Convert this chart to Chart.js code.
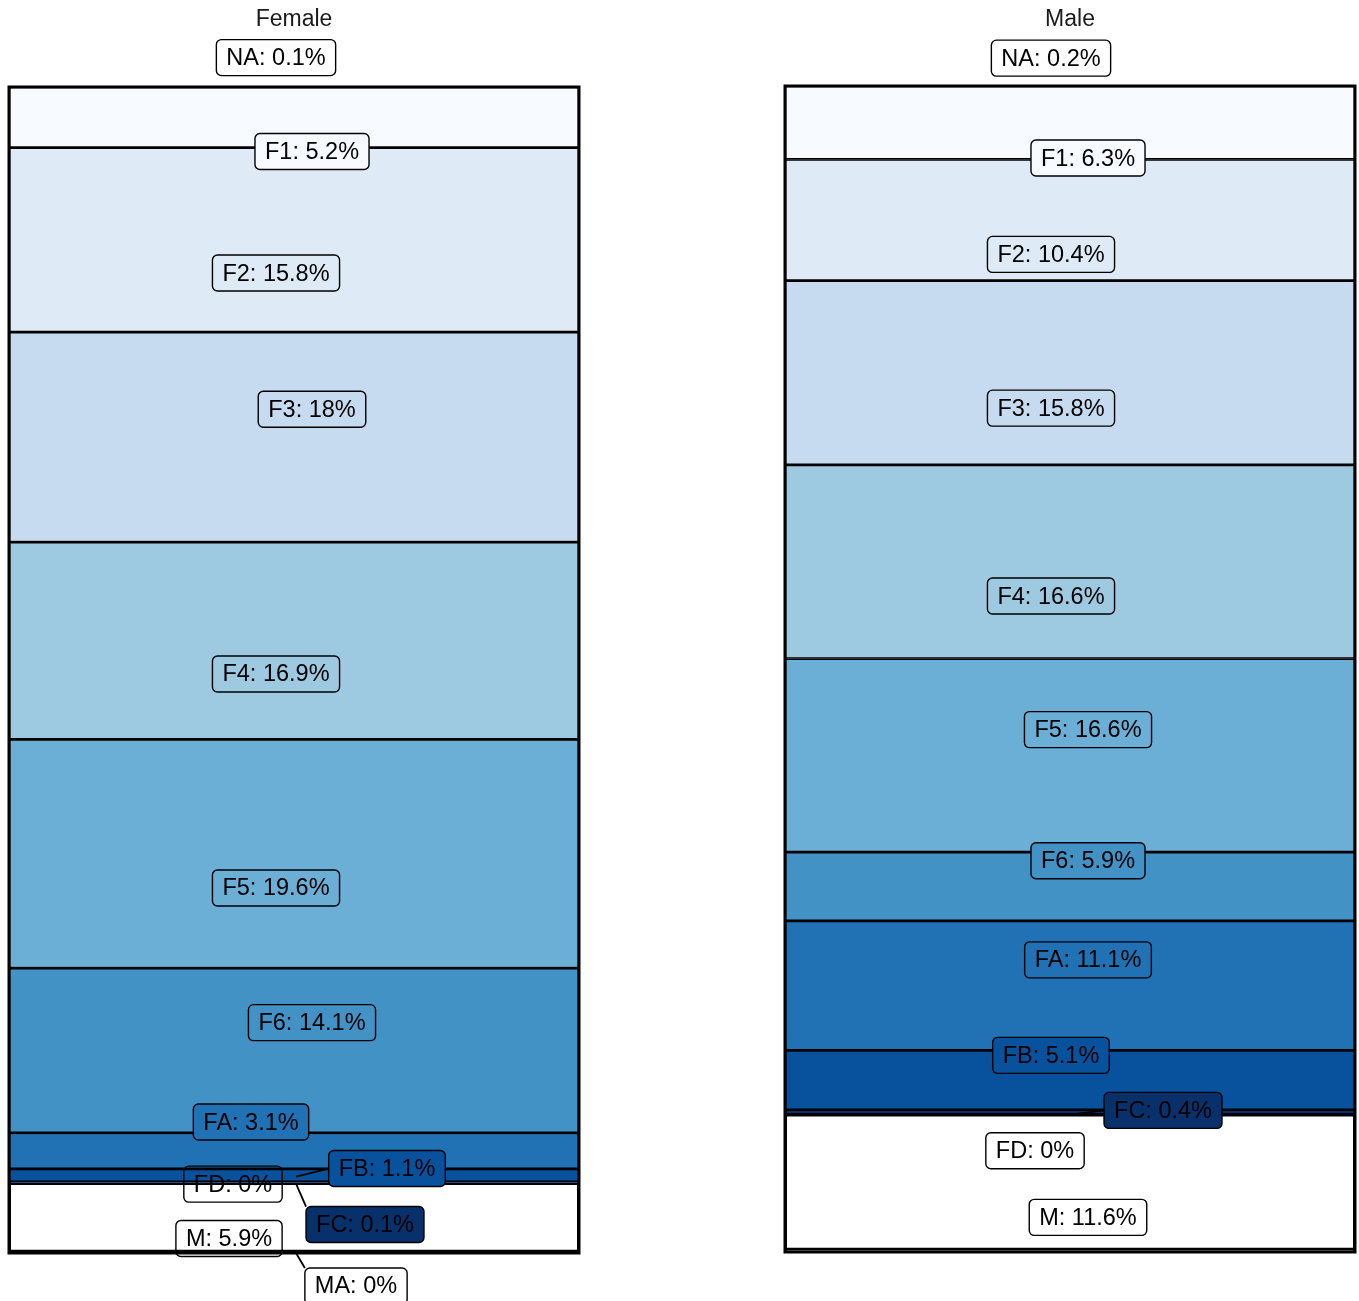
<!DOCTYPE html>
<html>
<head>
<meta charset="utf-8">
<script src="https://cdn.jsdelivr.net/npm/chart.js@4"></script>
<style>
  html, body { margin: 0; padding: 0; background: #ffffff; }
  body { width: 1359px; height: 1301px; position: relative; overflow: hidden; }
  canvas { position: absolute; top: 0; }
</style>
</head>
<body>
<canvas id="female" width="680" height="1301" style="left:0px"></canvas>
<canvas id="male" width="679" height="1301" style="left:680px"></canvas>
<script>
// ---- data ----
const categories = ['NA', 'F1', 'F2', 'F3', 'F4', 'F5', 'F6', 'FA', 'FB', 'FC', 'FD', 'M', 'MA'];
const femaleValues = [0.1, 5.2, 15.8, 18, 16.9, 19.6, 14.1, 3.1, 1.1, 0.1, 0, 5.9, 0];
const maleValues = [0.2, 6.3, 10.4, 15.8, 16.6, 16.6, 5.9, 11.1, 5.1, 0.4, 0, 11.6, null];
const panelNames = ['Female', 'Male'];
// bars are stacked top-to-bottom in this order (the NA level sits at the very bottom)
const barOrder = ['F1', 'F2', 'F3', 'F4', 'F5', 'F6', 'FA', 'FB', 'FC', 'FD', 'M', 'MA', 'NA'];

// ---- styles ----
const fillColors = ['rgba(0,0,0,0)', '#f7fbff', '#deebf7', '#c6dbef', '#9ecae1', '#6baed6', '#4292c6',
  '#2171b5', '#08519c', '#08306b', 'rgba(0,0,0,0)', 'rgba(0,0,0,0)', 'rgba(0,0,0,0)'];
const labelFills = ['#ffffff', '#f7fbff', '#deebf7', '#c6dbef', '#9ecae1', '#6baed6', '#4292c6',
  '#2171b5', '#08519c', '#08306b', 'rgba(0,0,0,0)', 'rgba(0,0,0,0)', 'rgba(0,0,0,0)'];

// label nudges (pixels from label anchor) as placed by the repel layout, and leader flags
const femaleNudge = [[-18, -30], [18, 33], [-18, 32], [18, -29], [-18, 32], [-18, 33], [18, -29],
  [-43, -30], [93, -8], [71, 41], [-61, 0], [-65, 20], [62, 33]];
const femaleLeader = [0, 0, 0, 0, 0, 0, 0, 0, 1, 1, 0, 0, 1];
const maleNudge = [[-19, -29], [18, 33], [-19, 32], [-19, 33], [-19, 32], [18, -28], [18, -28],
  [18, -28], [-19, -27], [93, -4], [-35, 34], [18, 33], [0, 0]];
const maleLeader = [0, 0, 0, 0, 0, 0, 0, 0, 0, 1, 0, 0, 0];

const FONT = '23.5px "Liberation Sans", Arial, sans-serif';

function roundRect(ctx, x, y, w, h, r) {
  ctx.beginPath();
  ctx.moveTo(x + r, y);
  ctx.lineTo(x + w - r, y);
  ctx.arcTo(x + w, y, x + w, y + r, r);
  ctx.lineTo(x + w, y + h - r);
  ctx.arcTo(x + w, y + h, x + w - r, y + h, r);
  ctx.lineTo(x + r, y + h);
  ctx.arcTo(x, y + h, x, y + h - r, r);
  ctx.lineTo(x, y + r);
  ctx.arcTo(x, y, x + r, y, r);
  ctx.closePath();
}

function makeLabelPlugin(values, nudges, leaders) {
  return {
    id: 'repelLabels',
    afterDatasetsDraw(chart) {
      const ctx = chart.ctx;
      const area = chart.chartArea;
      const xs = chart.scales.x, ys = chart.scales.y;
      // outer frame
      ctx.save();
      ctx.strokeStyle = '#000';
      ctx.lineWidth = 3;
      ctx.strokeRect(area.left, area.top, area.right - area.left, area.bottom - area.top);
      ctx.restore();

      ctx.save();
      ctx.font = FONT;
      const boxes = [];
      let cum = 0;
      categories.forEach((c, i) => {
        const v = values[i];
        if (v === null || v === undefined) return;
        const px = xs.getPixelForValue(0);
        const py = ys.getPixelForValue(cum + v / 2);
        cum += v;
        const text = c + ': ' + v + '%';
        const tw = ctx.measureText(text).width;
        const w = tw + 20, h = 36;
        const cx = px + nudges[i][0], cy = py + nudges[i][1];
        boxes.push({ i, px, py, text, x: cx - w / 2, y: cy - h / 2, w, h, cx, cy });
      });
      // leader segments first
      ctx.strokeStyle = '#000';
      ctx.lineWidth = 1.8;
      boxes.forEach(b => {
        if (!leaders[b.i]) return;
        const cand = [];
        [b.x, b.x + b.w / 2, b.x + b.w].forEach(xx => {
          [b.y, b.y + b.h / 2, b.y + b.h].forEach(yy => {
            if (!(xx === b.x + b.w / 2 && yy === b.y + b.h / 2)) cand.push([xx, yy]);
          });
        });
        let best = cand[0], bd = Infinity;
        cand.forEach(c => {
          const d = Math.hypot(c[0] - b.px, c[1] - b.py);
          if (d < bd) { bd = d; best = c; }
        });
        ctx.beginPath();
        ctx.moveTo(b.px + 2, b.py);
        ctx.lineTo(best[0], best[1]);
        ctx.stroke();
      });
      // label boxes
      boxes.forEach(b => {
        roundRect(ctx, b.x, b.y, b.w, b.h, 5);
        ctx.fillStyle = labelFills[b.i];
        ctx.fill();
        ctx.lineWidth = 1.4;
        ctx.strokeStyle = '#000';
        ctx.stroke();
        ctx.fillStyle = '#000';
        ctx.textAlign = 'center';
        ctx.textBaseline = 'middle';
        ctx.fillText(b.text, b.cx, b.cy + 1);
      });
      ctx.restore();
    }
  };
}

function makeChart(id, name, values, nudges, leaders, pad, titleGap) {
  const total = values.reduce((s, v) => s + (v || 0), 0);
  const datasets = barOrder.map(c => {
    const i = categories.indexOf(c);
    return {
      label: c,
      data: [values[i]],
      backgroundColor: fillColors[i],
      borderColor: '#000',
      borderWidth: 1.7,
      borderSkipped: false,
      barPercentage: 1,
      categoryPercentage: 1
    };
  });
  return new Chart(document.getElementById(id), {
    type: 'bar',
    data: { labels: [name], datasets },
    options: {
      responsive: false,
      animation: false,
      devicePixelRatio: 1,
      layout: { padding: pad },
      scales: {
        x: { stacked: true, display: false },
        y: { stacked: true, display: false, min: 0, max: total, reverse: true }
      },
      plugins: {
        legend: { display: false },
        tooltip: { enabled: false },
        title: {
          display: true,
          text: name,
          color: '#1a1a1a',
          font: { family: '"Liberation Sans", Arial, sans-serif', size: 23, weight: 'normal', lineHeight: 1.2 },
          padding: { top: 0, bottom: titleGap }
        }
      }
    },
    plugins: [makeLabelPlugin(values, nudges, leaders)]
  });
}

makeChart('female', panelNames[0], femaleValues, femaleNudge, femaleLeader,
  { top: 6, left: 9, right: 101, bottom: 48 }, 53.4);
makeChart('male', panelNames[1], maleValues, maleNudge, maleLeader,
  { top: 6, left: 105, right: 4, bottom: 49 }, 52.4);
</script>
</body>
</html>
